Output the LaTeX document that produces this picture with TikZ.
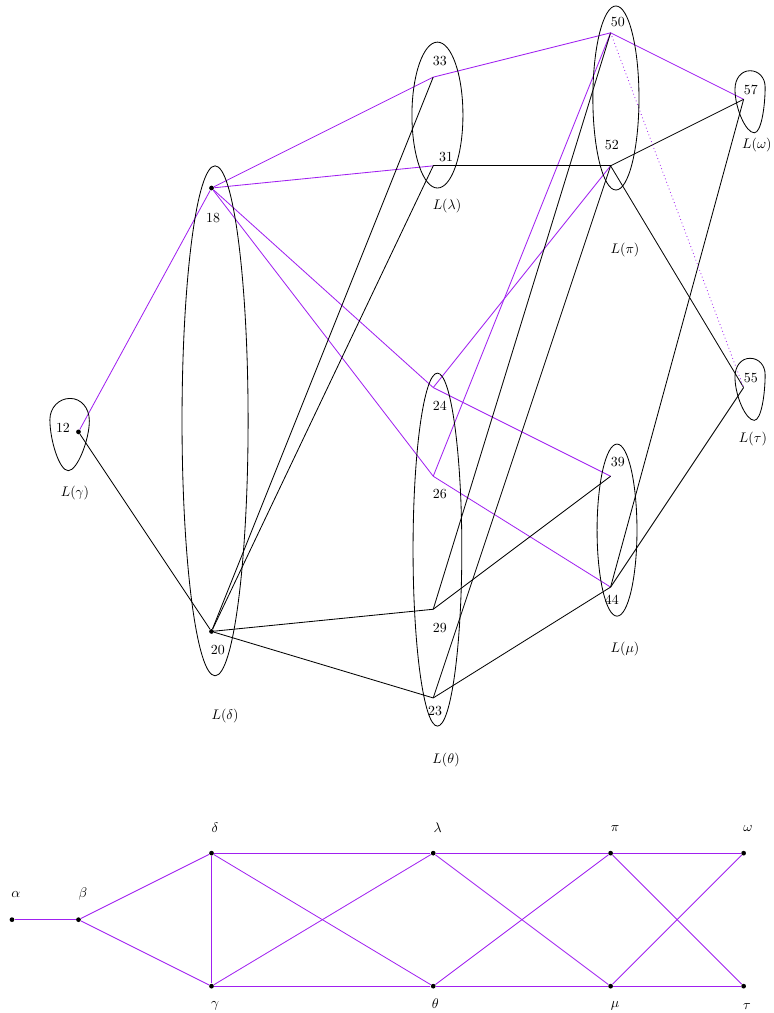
\documentclass[tikz,border=0pt]{standalone}
\usepackage{amsmath}
\usepackage{amsfonts}
\definecolor{purp}{RGB}{160,32,240}

\begin{document}
\begin{tikzpicture}[x=0.56cm, y=0.56cm, line width=0.6pt,
    dot/.style={circle, fill=black, inner sep=0pt, minimum size=3.4pt},
    pe/.style={purp},
    be/.style={black},
    txt/.style={inner sep=1pt}]
                \useasboundingbox (-0.54,8.48) rectangle (34.37,-37.21);

                % level graph
                \node[dot] (a12) at (3,-11) {};
                \node[dot] (a18) at (9,0) {};
                \node[dot] (a20) at (9,-20) {};
                \coordinate (a33) at (19,5);
                \coordinate (a31) at (19,1);
                \coordinate (a24) at (19,-9);
                \coordinate (a26) at (19,-13);
                \coordinate (a29) at (19,-19);
                \coordinate (a23) at (19,-23);
                \coordinate (a50) at (27,7);
                \coordinate (a52) at (27,1);
                \coordinate (a39) at (27,-13);
                \coordinate (a44) at (27,-18);
                \coordinate (a57) at (33,4);
                \coordinate (a55) at (33,-9);

                \foreach \u/\v in {12/18, 18/33, 18/31, 18/24, 18/26, 33/50, 50/57,
                                   26/50, 24/52, 24/39, 26/44}
                    \draw[pe] (a\u) -- (a\v);
                \foreach \u/\v in {12/20, 20/33, 20/31, 20/29, 20/23, 31/52, 52/57,
                                   52/55, 29/50, 29/39, 23/52, 23/44, 44/57, 44/55}
                    \draw[be] (a\u) -- (a\v);
                \draw[pe, dotted] (a50) -- (a55);

                % the sets L(.)
                \draw (2.62,-9.49) .. controls (3.12,-9.49) and (3.49,-9.92) .. (3.49,-10.5)
                      .. controls (3.49,-11.35) and (2.95,-12.75) .. (2.54,-12.75)
                      .. controls (2.13,-12.75) and (1.71,-11.35) .. (1.71,-10.45)
                      .. controls (1.71,-9.9) and (2.12,-9.49) .. (2.62,-9.49);
                \draw (9.16,-10.5) ellipse (1.49 and 11.5);
                \draw (19.19,3.29) ellipse (1.15 and 3.29);
                \draw (19.19,-16.31) ellipse (1.1 and 7.96);
                \draw (27.24,4.06) ellipse (1.04 and 4.15);
                \draw (27.29,-15.43) ellipse (0.9 and 3.88);
                \draw (33.29,5.29) .. controls (33.68,5.29) and (33.97,4.98) .. (33.97,4.55)
                      .. controls (33.97,3.7) and (33.8,2.49) .. (33.48,2.49)
                      .. controls (33.1,2.49) and (32.61,3.6) .. (32.61,4.45)
                      .. controls (32.61,4.95) and (32.9,5.29) .. (33.29,5.29);
                \draw (33.29,-7.68) .. controls (33.68,-7.68) and (33.97,-7.99) .. (33.97,-8.42)
                      .. controls (33.97,-9.27) and (33.8,-10.48) .. (33.48,-10.48)
                      .. controls (33.1,-10.48) and (32.61,-9.37) .. (32.61,-8.52)
                      .. controls (32.61,-8.02) and (32.9,-7.68) .. (33.29,-7.68);

                \node[txt] (n12) at (2.30,-10.83) {12};
                \node[txt] (n18) at (9.07,-1.35) {18};
                \node[txt] (n20) at (9.29,-20.84) {20};
                \node[txt] (n33) at (19.3,5.73) {33};
                \node[txt] (n31) at (19.58,1.40) {31};
                \node[txt] (n24) at (19.3,-9.83) {24};
                \node[txt] (n26) at (19.3,-13.8) {26};
                \node[txt] (n29) at (19.3,-19.85) {29};
                \node[txt] (n23) at (19.08,-23.59) {23};
                \node[txt] (n50) at (27.33,7.49) {50};
                \node[txt] (n52) at (27.06,1.94) {52};
                \node[txt] (n39) at (27.33,-12.36) {39};
                \node[txt] (n44) at (27.06,-18.58) {44};
                \node[txt] (n57) at (33.33,4.42) {57};
                \node[txt] (n55) at (33.33,-8.57) {55};

                \node[txt] (Lgamma) at (2.84,-13.76) {$L(\gamma)$};
                \node[txt] (Ldelta) at (9.61,-23.82) {$L(\delta)$};
                \node[txt] (Llambda) at (19.62,-0.81) {$L(\lambda)$};
                \node[txt] (Ltheta) at (19.58,-25.8) {$L(\theta)$};
                \node[txt] (Lpi) at (27.65,-2.8) {$L(\pi)$};
                \node[txt] (Lmu) at (27.65,-20.79) {$L(\mu)$};
                \node[txt] (Lomega) at (33.6,1.94) {$L(\omega)$};
                \node[txt] (Ltau) at (33.42,-11.32) {$L(\tau)$};

                % base graph
                \node[dot] (alpha) at (0,-33) {};
                \node[dot] (beta) at (3,-33) {};
                \node[dot] (delta) at (9,-30) {};
                \node[dot] (gamma) at (9,-36) {};
                \node[dot] (lambda) at (19,-30) {};
                \node[dot] (theta) at (19,-36) {};
                \node[dot] (pi) at (27,-30) {};
                \node[dot] (mu) at (27,-36) {};
                \node[dot] (omega) at (33,-30) {};
                \node[dot] (tau) at (33,-36) {};

                \foreach \u/\v in {alpha/beta, beta/delta, beta/gamma, delta/gamma,
                                   delta/lambda, delta/theta, gamma/lambda, gamma/theta,
                                   lambda/pi, lambda/mu, theta/pi, theta/mu,
                                   pi/omega, pi/tau, mu/omega, mu/tau}
                    \draw[pe] (\u) -- (\v);

                \node[txt] (l-alpha) at (0.18,-31.85) {$\alpha$};
                \node[txt] (l-beta) at (3.2,-31.85) {$\beta$};
                \node[txt] (l-delta) at (9.16,-28.87) {$\delta$};
                \node[txt] (l-lambda) at (19.2,-28.87) {$\lambda$};
                \node[txt] (l-pi) at (27.2,-28.87) {$\pi$};
                \node[txt] (l-omega) at (33.2,-28.87) {$\omega$};
                \node[txt] (l-gamma) at (9.16,-36.9) {$\gamma$};
                \node[txt] (l-theta) at (19.1,-36.8) {$\theta$};
                \node[txt] (l-mu) at (27.2,-36.9) {$\mu$};
                \node[txt] (l-tau) at (33.15,-36.9) {$\tau$};
            \end{tikzpicture}
\end{document}
